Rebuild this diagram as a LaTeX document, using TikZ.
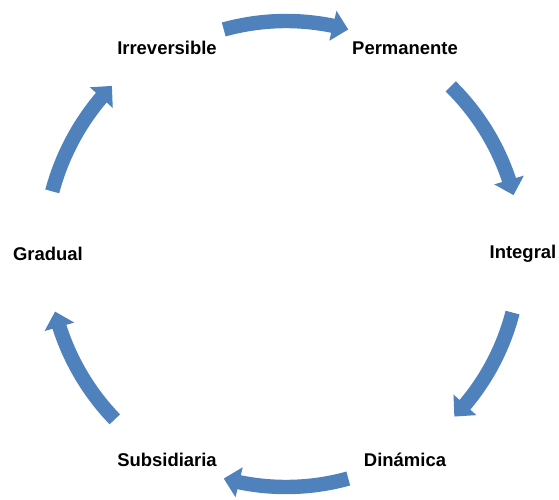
\documentclass[tikz,border=0pt]{standalone}
\usepackage{fontspec}
\setmainfont{Liberation Sans}
\usetikzlibrary{arrows.meta,bending}
\definecolor{cycleblue}{RGB}{79,129,189}
\tikzset{
    node distance=2cm,
    }

\begin{document}
\begin{tikzpicture}[
labelnode/.style={font=\fontsize{10.5}{12}\selectfont\bfseries, inner sep=1pt},
cyclearrow/.style={draw=cycleblue, line width=8.2pt, -{Triangle[width=17pt, length=9pt, flex]}},
]
\useasboundingbox (0,0) rectangle (11.18,9.98);
\coordinate (c) at (5.72,4.9);

\node[labelnode] (irreversible) at ([shift={(120:4.76)}]c) {Irreversible};
\node[labelnode] (permanente) at ([shift={(60:4.76)}]c) {Permanente};
\node[labelnode] (integral) at ([shift={(0:4.74)}]c) {Integral};
\node[labelnode] (dinamica) at ([shift={(-60:4.76)}]c) {Dinámica};
\node[labelnode] (subsidiaria) at ([shift={(-120:4.76)}]c) {Subsidiaria};
\node[labelnode] (gradual) at ([shift={(180:4.76)}]c) {Gradual};

% arcs between the labels, clockwise
\draw[cyclearrow] ([shift={(105.5:4.66)}]c) arc[start angle=105.5, end angle=74.5, radius=4.66];
\draw[cyclearrow] ([shift={(45.5:4.7)}]c) arc[start angle=45.5, end angle=14.5, radius=4.7];
\draw[cyclearrow] ([shift={(-14.5:4.68)}]c) arc[start angle=-14.5, end angle=-44, radius=4.68];
\draw[cyclearrow] ([shift={(-74.5:4.66)}]c) arc[start angle=-74.5, end angle=-105.5, radius=4.66];
\draw[cyclearrow] ([shift={(224:4.76)}]c) arc[start angle=224, end angle=194, radius=4.76];
\draw[cyclearrow] ([shift={(165:4.84)}]c) arc[start angle=165, end angle=136, radius=4.84];
\end{tikzpicture}
\end{document}
